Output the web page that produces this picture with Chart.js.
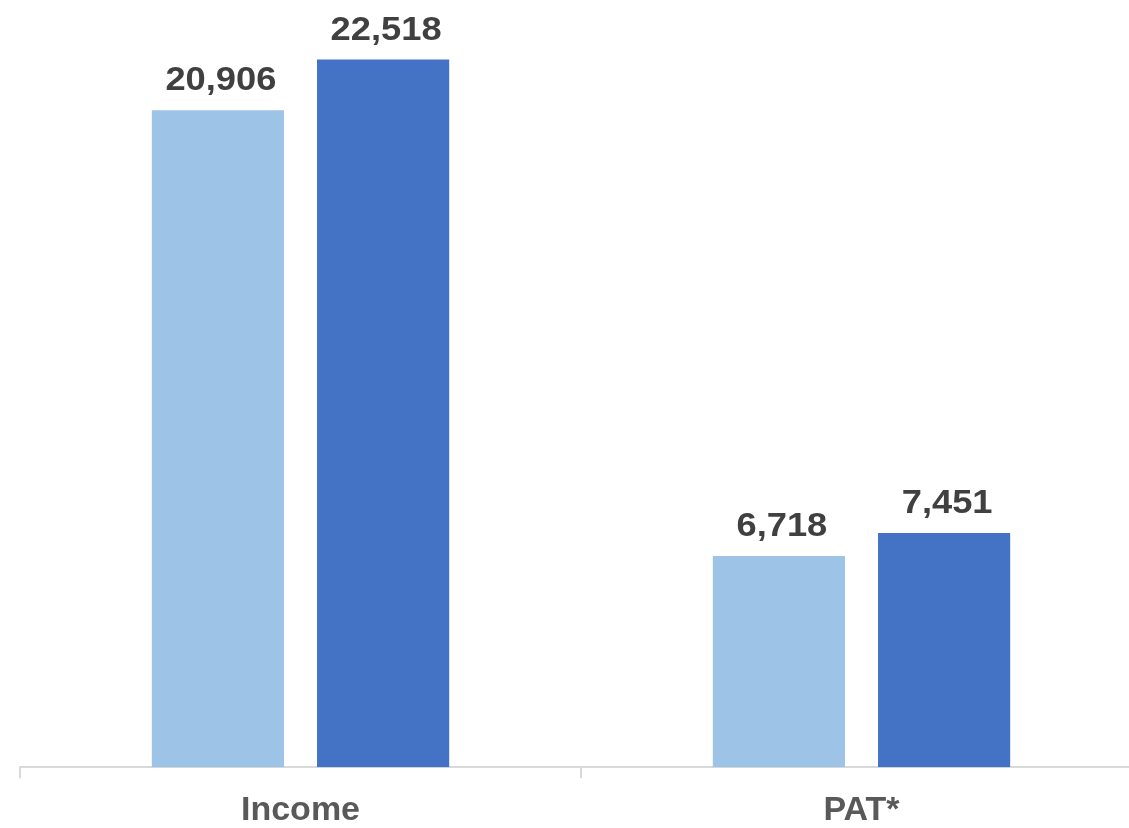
<!DOCTYPE html>
<html>
<head>
<meta charset="utf-8">
<script src="https://cdn.jsdelivr.net/npm/chart.js@4/dist/chart.umd.min.js"></script>
<style>
  html, body { margin: 0; padding: 0; background: #fff; overflow: hidden; }
  #wrap { position: relative; width: 1162px; height: 828px; }
</style>
</head>
<body>
<div id="wrap"><canvas id="c"></canvas></div>
<script>
const categories = ['Income', 'PAT*'];
const previousValues = [20906, 6718];
const currentValues = [22518, 7451];
const seriesNames = ['Previous', 'Current'];
const seriesColors = ['#9DC3E6', '#4472C4'];

// Bold value labels written above each bar, slightly widened like the axis font
const valueLabels = {
  id: 'valueLabels',
  afterDatasetsDraw(chart) {
    const ctx = chart.ctx;
    ctx.save();
    ctx.font = 'bold 33px "Liberation Sans", Arial, sans-serif';
    ctx.fillStyle = '#404040';
    ctx.textAlign = 'center';
    ctx.textBaseline = 'alphabetic';
    chart.data.datasets.forEach((ds, i) => {
      chart.getDatasetMeta(i).data.forEach((bar, j) => {
        const text = ds.data[j].toLocaleString('en-US');
        ctx.save();
        ctx.translate(bar.x + 3, bar.y - 20);
        ctx.scale(1.1, 1);
        ctx.fillText(text, 0, 0);
        ctx.restore();
      });
    });
    ctx.restore();
  }
};

new Chart(document.getElementById('c'), {
  type: 'bar',
  data: {
    labels: categories,
    datasets: [
      { label: seriesNames[0], data: previousValues, backgroundColor: seriesColors[0] },
      { label: seriesNames[1], data: currentValues, backgroundColor: seriesColors[1] }
    ]
  },
  options: {
    responsive: true,
    maintainAspectRatio: false,
    animation: false,
    layout: { padding: { left: 20, right: 20, top: 13, bottom: -15 } },
    datasets: { bar: { categoryPercentage: 0.589, barPercentage: 0.8 } },
    plugins: { legend: { display: false }, tooltip: { enabled: false } },
    scales: {
      y: { display: false, min: 0, max: 24000 },
      x: {
        border: { display: true, color: '#d9d9d9', width: 2 },
        grid: { drawOnChartArea: false, drawTicks: true, tickLength: 11, color: '#d9d9d9', lineWidth: 2 },
        ticks: {
          color: '#595959',
          padding: 12,
          font: { family: '"Liberation Sans", Arial, sans-serif', size: 34, weight: 'bold' }
        }
      }
    }
  },
  plugins: [valueLabels]
});
</script>
</body>
</html>
